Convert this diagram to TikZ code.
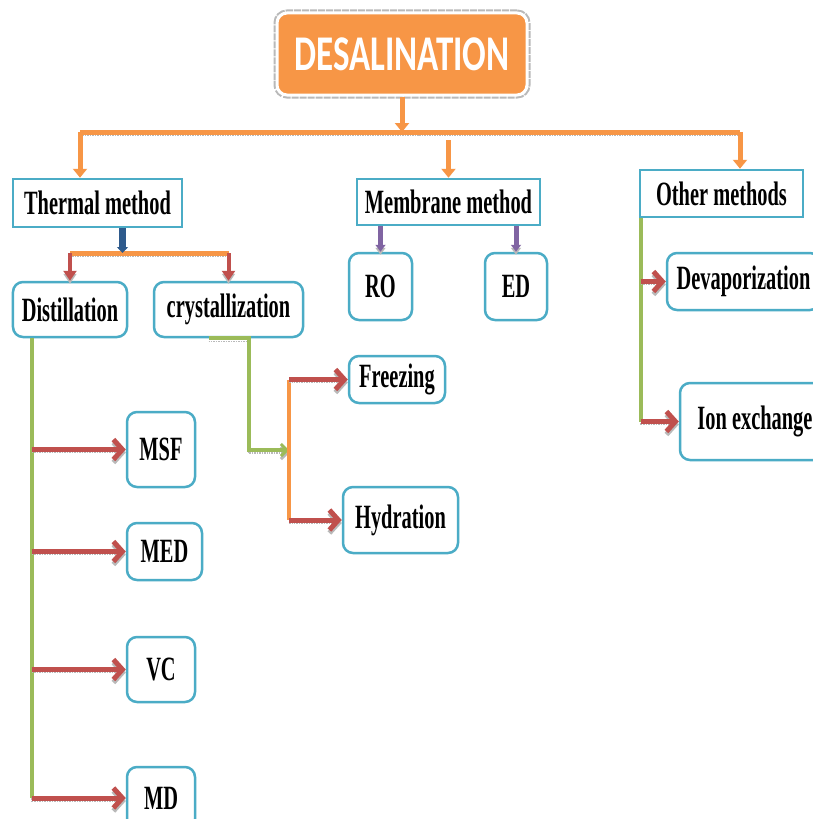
\documentclass[tikz,border=0pt]{standalone}
\usepackage{fontspec}
\usetikzlibrary{arrows.meta}
\newfontfamily\boxfont{Liberation Serif}[FakeStretch=0.6]
\newfontfamily\headfont{Carlito}[FakeStretch=0.7]
\definecolor{boxblue}{HTML}{4BACC6}
\definecolor{headorange}{HTML}{F79646}
\definecolor{arrowred}{HTML}{C0504D}
\definecolor{trunkgreen}{HTML}{9BBB59}
\definecolor{memberpurple}{HTML}{8064A2}
\definecolor{darkblue}{HTML}{2E5A8C}

\begin{document}
\begin{tikzpicture}[x=1bp,y=-1bp,line cap=butt]
    \tikzstyle{every node}=[font=\boxfont\bfseries\fontsize{34bp}{36bp}\selectfont,inner sep=0pt]
    \tikzstyle{sbox}=[draw=boxblue,line width=2.5bp,fill=white]
    \tikzstyle{rbox}=[sbox,rounded corners=10bp]
    \tikzstyle{shade}=[preaction={draw=gray!55,densely dotted,line width=1.5bp,transform canvas={yshift=-3bp}}]
    \tikzstyle{redarrow}=[shade,draw=arrowred,line width=5bp,-{Straight Barb[length=9bp,width=20bp,line width=5bp]}]
    \tikzstyle{orangearrow}=[draw=headorange,line width=5bp,-{Triangle[length=9bp,width=14bp]}]
    \tikzstyle{orangeline}=[draw=headorange,line width=5bp]
    \tikzstyle{greenline}=[shade,draw=trunkgreen,line width=4bp]
    \tikzstyle{purplearrow}=[shade,draw=memberpurple,line width=5bp,-{Triangle[length=7bp,width=10bp]}]

    \clip (0,0) rectangle (813,819);
    \fill[white] (0,0) rectangle (813,819);

    % top of the tree
    \node[fill=headorange,draw=white,line width=3bp,rounded corners=10bp,
          preaction={draw=gray!55,densely dotted,line width=7bp,rounded corners=10bp},
          minimum width=250bp,minimum height=82bp,text=white,
          font=\headfont\bfseries\fontsize{50bp}{54bp}\selectfont] (desal) at (402,54) {DESALINATION};

    \node[sbox,minimum width=169bp,minimum height=48bp] (thermal) at (97.5,203) {Thermal method};
    \node[sbox,minimum width=183bp,minimum height=46bp] (membrane) at (448.5,202) {Membrane method};
    \node[sbox,minimum width=163bp,minimum height=47bp] (other) at (721.5,193.5) {Other methods};

    % second level
    \node[rbox,minimum width=114bp,minimum height=55bp] (distill) at (70,309.5) {Distillation};
    \node[rbox,minimum width=149bp,minimum height=55bp] (crystal) at (228.5,309.5) {crystallization};
    \node[rbox,minimum width=63bp,minimum height=67bp] (ro) at (380.5,286.5) {RO};
    \node[rbox,minimum width=62bp,minimum height=67bp] (ed) at (516,286.5) {ED};
    \node[rbox,minimum width=153bp,minimum height=57bp] (devap) at (743.5,281.5) {Devaporization};
    \node[rbox,minimum width=150bp,minimum height=77bp] (ionex) at (755,421.5) {Ion exchange};

    % leaves
    \node[rbox,minimum width=68bp,minimum height=75bp] (msf) at (161,449.5) {MSF};
    \node[rbox,minimum width=75bp,minimum height=57bp] (med) at (164.5,551.5) {MED};
    \node[rbox,minimum width=68bp,minimum height=65bp] (vc) at (161,669.5) {VC};
    \node[rbox,minimum width=68bp,minimum height=62bp] (md) at (161,798) {MD};
    \node[rbox,minimum width=96bp,minimum height=47bp] (freezing) at (397,379.5) {Freezing};
    \node[rbox,minimum width=115bp,minimum height=66bp] (hydration) at (400.5,520) {Hydration};

    % main bar
    \coordinate (barL) at (80,132);
    \coordinate (barR) at (740,132);
    \draw[orangeline,shade] (barL) -- (barR);
    \draw[orangearrow] (desal.south) -- (desal.south |- barL);
    \draw[orangearrow] (barL) -- (barL |- thermal.north);
    \draw[orangearrow] ([yshift=-8bp]membrane.north |- barL) -- (membrane.north);
    \draw[orangearrow] (barR) -- (barR |- other.north);

    % thermal branch
    \coordinate (thBar) at (67,253);
    \draw[orangeline,shade] (distill.north |- thBar) -- (crystal.north |- thBar);
    \draw[draw=darkblue,line width=7bp,-{Triangle[length=6bp,width=11bp]}]
        ([xshift=25bp]thermal.south) -- ([xshift=25bp]thermal.south |- thBar);
    \draw[redarrow,line width=4bp,-{Triangle[length=10bp,width=13bp]}] (distill.north |- thBar) -- (distill.north);
    \draw[redarrow,line width=4bp,-{Triangle[length=10bp,width=13bp]}] (crystal.north |- thBar) -- (crystal.north);

    % membrane branch
    \draw[purplearrow] (ro.north |- membrane.south) -- (ro.north);
    \draw[purplearrow] (ed.north |- membrane.south) -- (ed.north);

    % other branch
    \coordinate (oTrunk) at ([xshift=2bp]other.south west);
    \draw[greenline] (oTrunk) -- (oTrunk |- ionex.west);
    \draw[redarrow] (oTrunk |- devap.west) -- (devap.west);
    \draw[redarrow] (oTrunk |- ionex.west) -- (ionex.west);

    % distillation branch
    \coordinate (dTrunk) at ([xshift=20bp]distill.south west);
    \draw[greenline] (dTrunk) -- (dTrunk |- md.west);
    \foreach \leaf in {msf,med,vc,md}
        \draw[redarrow] (dTrunk |- \leaf.west) -- (\leaf.west);

    % crystallization branch
    \coordinate (cJoin) at (289,450);
    \draw[greenline,-{Straight Barb[length=6bp,width=12bp,line width=3bp]}]
        ([xshift=-20bp]crystal.south) -- ([xshift=20bp]crystal.south) |- (cJoin);
    \draw[orangeline,line width=3.5bp] (cJoin |- freezing.west) -- (cJoin |- hydration.west);
    \draw[redarrow] (cJoin |- freezing.west) -- (freezing.west);
    \draw[redarrow] (cJoin |- hydration.west) -- (hydration.west);
\end{tikzpicture}
\end{document}
